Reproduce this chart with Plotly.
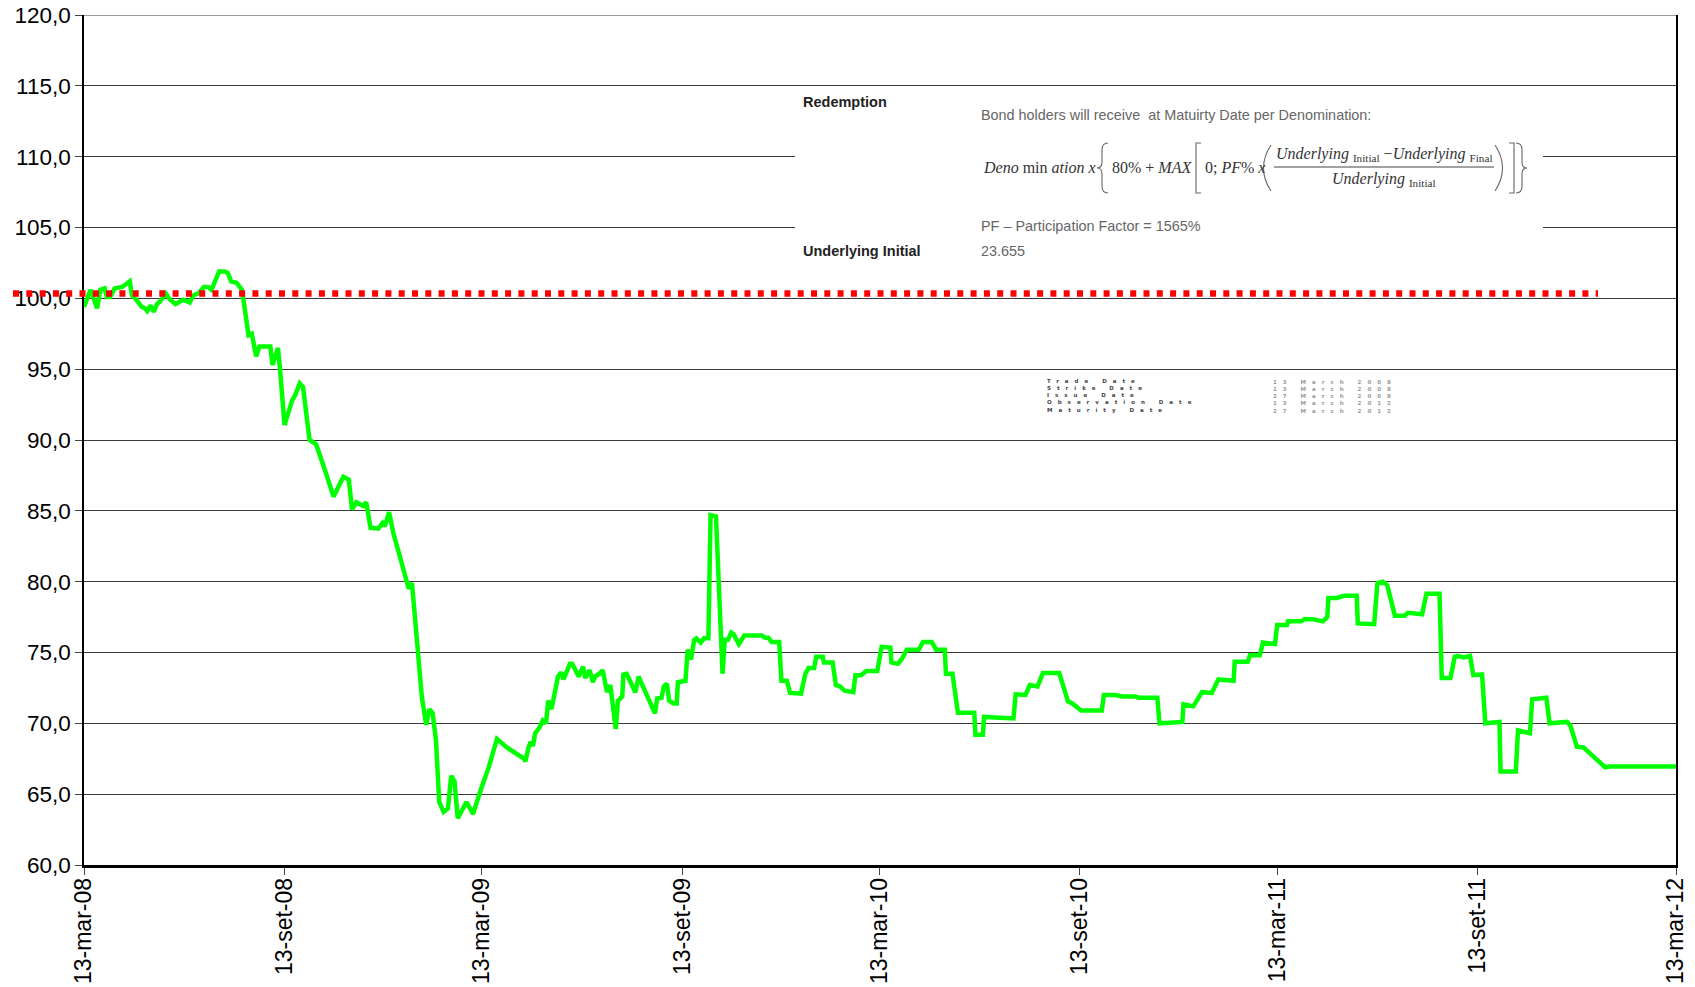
import pandas as pd
import plotly.graph_objects as go

# ---------------- data ----------------
BASE_DATE = "2008-03-13"
day_offsets = [
    0, 6, 12, 15, 19, 21, 24, 28, 35, 42, 44, 48, 53, 56, 58, 61, 64, 67, 70, 75,
    79, 84, 91, 97, 100, 105, 110, 114, 117, 120, 124, 129, 132, 135, 140, 145,
    151, 154, 158, 161, 171, 173, 178, 180, 184, 191, 194, 198, 201, 207, 213,
    221, 229, 238, 243, 246, 250, 256, 259, 263, 270, 274, 276, 280, 284, 290,
    298, 301, 307, 310, 314, 317, 320, 323, 326, 330, 334, 337, 340, 343, 351,
    357, 365, 371, 379, 388, 404, 405, 408, 410, 412, 414, 418, 421, 424, 426,
    429, 435, 438, 440, 446, 448, 454, 458, 460, 464, 467, 469, 473, 476, 480,
    483, 488, 490, 494, 495, 498, 506, 509, 524, 526, 530, 532, 535, 537, 541,
    544, 545, 552, 554, 557, 560, 562, 566, 569, 573, 575, 580, 586, 588, 591,
    594, 596, 601, 606, 622, 625, 628, 631, 638, 640, 645, 648, 658, 662, 665,
    670, 672, 678, 679, 687, 690, 694, 698, 706, 708, 713, 718, 728, 732, 740,
    741, 747, 751, 755, 766, 770, 778, 782, 790, 791, 797, 802, 813, 817, 818,
    825, 826, 839, 853, 855, 864, 868, 875, 880, 895, 903, 907, 915, 934, 936,
    946, 953, 965, 968, 985, 987, 1000, 1008, 1009, 1018, 1026, 1035, 1041,
    1055, 1056, 1068, 1070, 1079, 1082, 1093, 1095, 1104, 1105, 1117, 1120,
    1128, 1137, 1141, 1142, 1150, 1156, 1168, 1169, 1184, 1187, 1192, 1196,
    1203, 1212, 1215, 1228, 1232, 1244, 1246, 1254, 1258, 1261, 1266, 1272,
    1275, 1283, 1286, 1299, 1300, 1314, 1316, 1327, 1329, 1342, 1345, 1361,
    1364, 1370, 1376, 1396, 1400, 1461,
]
price_values = [
    99.4, 100.6, 99.3, 100.6, 100.7, 100.1, 100.1, 100.7, 100.8, 101.2, 100.2,
    99.9, 99.4, 99.3, 99.1, 99.5, 99.05, 99.6, 99.8, 100.35, 99.9, 99.6, 99.9,
    99.7, 100.2, 100.35, 100.8, 100.8, 100.6, 101.1, 101.9, 101.9, 101.8, 101.2,
    101.1, 100.6, 97.4, 97.5, 95.9, 96.6, 96.6, 95.3, 96.5, 94.9, 91.05, 92.8,
    93.2, 94.0, 93.75, 90.0, 89.7, 87.9, 86.0, 87.4, 87.2, 85.1, 85.6, 85.35,
    85.6, 83.8, 83.75, 84.15, 83.9, 84.9, 83.4, 81.75, 79.5, 79.9, 74.2, 71.9,
    69.9, 71.0, 70.7, 68.8, 64.45, 63.75, 64.0, 66.3, 65.9, 63.3, 64.45, 63.6,
    65.5, 66.8, 68.9, 68.3, 67.5, 67.3, 68.3, 68.7, 68.4, 69.3, 69.7, 70.2,
    70.0, 71.6, 71.0, 73.3, 73.6, 73.1, 74.2, 74.2, 73.3, 74.0, 73.2, 73.75,
    72.9, 73.3, 73.5, 73.75, 72.2, 72.7, 69.6, 71.6, 71.9, 73.45, 73.5, 72.2,
    73.3, 70.7, 71.75, 71.8, 72.6, 72.8, 71.6, 71.4, 71.4, 72.9, 73.0, 75.2,
    74.5, 75.9, 76.0, 75.7, 76.0, 76.0, 84.7, 84.6, 73.5, 75.9, 75.9, 76.4,
    76.3, 75.6, 76.2, 76.2, 76.05, 76.05, 75.75, 75.75, 73.0, 73.0, 72.15,
    72.1, 73.5, 73.9, 73.9, 74.7, 74.7, 74.3, 74.3, 72.7, 72.6, 72.3, 72.2,
    73.4, 73.4, 73.7, 73.7, 75.4, 75.35, 74.3, 74.2, 74.6, 75.2, 75.2, 75.75,
    75.75, 75.2, 75.2, 73.5, 73.5, 70.75, 70.8, 70.75, 69.2, 69.2, 70.45, 70.4,
    70.35, 72.05, 72.0, 72.7, 72.6, 73.55, 73.55, 71.55, 71.4, 70.9, 70.9,
    72.0, 72.0, 71.9, 71.9, 71.8, 71.8, 70.0, 70.1, 70.1, 71.35, 71.2, 72.2,
    72.15, 73.1, 73.0, 74.35, 74.35, 74.8, 74.8, 75.7, 75.6, 76.95, 76.95,
    77.2, 77.2, 77.35, 77.35, 77.2, 77.5, 78.85, 78.85, 79.0, 79.0, 77.05,
    77.0, 79.9, 80.0, 79.75, 77.6, 77.6, 77.8, 77.7, 79.15, 79.15, 73.2, 73.2,
    74.7, 74.75, 74.65, 74.75, 73.4, 73.45, 70.0, 70.1, 66.6, 66.6, 69.5,
    69.3, 71.7, 71.8, 70.0, 70.1, 69.85, 68.35, 68.3, 66.9, 66.95, 66.95,
]
reference_level = 100.35

tick_dates = ["2008-03-13", "2008-09-13", "2009-03-13", "2009-09-13", "2010-03-13",
              "2010-09-13", "2011-03-13", "2011-09-13", "2012-03-13"]
tick_labels = ["13-mar-08", "13-set-08", "13-mar-09", "13-set-09", "13-mar-10",
               "13-set-10", "13-mar-11", "13-set-11", "13-mar-12"]
y_ticks = [60, 65, 70, 75, 80, 85, 90, 95, 100, 105, 110, 115, 120]

info_labels = ["Trade Date", "Strike Date", "Issue Date", "Observation Date", "Maturity Date"]
info_values = ["13 March 2008", "13 March 2008", "27 March 2008", "13 March 2012", "27 March 2012"]

dates = pd.Timestamp(BASE_DATE) + pd.to_timedelta(day_offsets, unit="D")

# ---------------- layout helpers ----------------
W, H = 1695, 987
L, R, T, B = 84, 1676, 15, 865   # plot area in page pixels


def px(x):
    return (x - L) / (R - L)


def py(y):
    return (B - y) / (B - T)


def path(cmds):
    """cmds: list of (letter, [(x, y), ...]) in page pixels -> paper path"""
    out = []
    for c, pts in cmds:
        out.append(c + " " + " ".join("%.5f,%.5f" % (px(x), py(y)) for x, y in pts))
    return " ".join(out)


fig = go.Figure()
fig.add_trace(go.Scatter(x=dates, y=price_values, mode="lines",
                         line=dict(color="#00FF00", width=4.5),
                         hoverinfo="skip", showlegend=False))

x_font = dict(family="Liberation Sans, Arial, sans-serif", size=23, color="black")
y_font = dict(family="Liberation Sans, Arial, sans-serif", size=22.5, color="black")

fig.update_layout(
    width=W, height=H, autosize=False,
    margin=dict(l=L, r=W - R, t=T, b=H - B, pad=0, autoexpand=False),
    paper_bgcolor="white", plot_bgcolor="white",
    separators=",.",
    showlegend=False,
    xaxis=dict(type="date", range=[tick_dates[0], tick_dates[-1]],
               tickvals=tick_dates, ticktext=tick_labels, tickangle=-90,
               showgrid=False, zeroline=False, automargin=False,
               ticklabeloverflow="allow", ticklabelstandoff=-6,
               showline=True, linecolor="black", linewidth=2.5,
               ticks="outside", ticklen=7, tickcolor="#444", tickwidth=1,
               tickfont=x_font),
    yaxis=dict(range=[y_ticks[0], y_ticks[-1]], tickvals=y_ticks, tickformat=".1f",
               showgrid=True, gridcolor="#3a3a3a", gridwidth=1.2,
               zeroline=False, automargin=False, ticklabeloverflow="allow",
               showline=True, linecolor="black", linewidth=1.5, mirror=True,
               ticks="outside", ticklen=7, tickcolor="#444", tickwidth=1,
               tickfont=y_font),
)

shapes = []
# top frame line (upper gridline of the value axis)
shapes.append(dict(type="line", xref="paper", yref="y", x0=0, x1=1,
                   y0=y_ticks[-1], y1=y_ticks[-1],
                   line=dict(color="#3a3a3a", width=1.2), layer="below"))
# inset picture background (white panel)
shapes.append(dict(type="rect", xref="paper", yref="paper",
                   x0=px(795), x1=px(1543), y0=py(268), y1=py(90),
                   fillcolor="white", line=dict(width=0), layer="above"))
# fraction bar
shapes.append(dict(type="line", xref="paper", yref="paper",
                   x0=px(1274), x1=px(1494), y0=py(167), y1=py(167),
                   line=dict(color="#444", width=1), layer="above"))
# formula brackets drawn as thin paths
bracket_line = dict(color="#666", width=1.1)
top, mid, bot = 143, 168, 193
brackets = [
    # {
    [("M", [(1108, top)]), ("Q", [(1102, top), (1102, top + 7)]), ("L", [(1102, mid - 6)]),
     ("Q", [(1102, mid), (1097, mid)]), ("Q", [(1102, mid), (1102, mid + 6)]),
     ("L", [(1102, bot - 7)]), ("Q", [(1102, bot), (1108, bot)])],
    # [
    [("M", [(1201, top)]), ("L", [(1196, top)]), ("L", [(1196, bot)]), ("L", [(1201, bot)])],
    # (
    [("M", [(1271, top + 2)]), ("Q", [(1256, mid), (1271, bot - 2)])],
    # )
    [("M", [(1495, top + 2)]), ("Q", [(1510, mid), (1495, bot - 2)])],
    # ]
    [("M", [(1509, top)]), ("L", [(1514, top)]), ("L", [(1514, bot)]), ("L", [(1509, bot)])],
    # }
    [("M", [(1516, top)]), ("Q", [(1522, top), (1522, top + 7)]), ("L", [(1522, mid - 6)]),
     ("Q", [(1522, mid), (1527, mid)]), ("Q", [(1522, mid), (1522, mid + 6)]),
     ("L", [(1522, bot - 7)]), ("Q", [(1522, bot), (1516, bot)])],
]
for b in brackets:
    shapes.append(dict(type="path", xref="paper", yref="paper", path=path(b),
                       line=bracket_line, layer="above"))
# red dotted reference level
shapes.append(dict(type="line", xref="paper", yref="y",
                   x0=px(13), x1=px(1598), y0=reference_level, y1=reference_level,
                   line=dict(color="#FF0000", width=6.5, dash="6px,7.3px"),
                   layer="above"))
fig.update_layout(shapes=shapes)

ann = []


def add_text(text, x, y, size, color, family="Liberation Sans, Arial, sans-serif",
             xanchor="left", yanchor="middle", align="left"):
    ann.append(dict(text=text, x=px(x), y=py(y), xref="paper", yref="paper",
                    xanchor=xanchor, yanchor=yanchor, showarrow=False, align=align,
                    font=dict(family=family, size=size, color=color)))


add_text("<b>Redemption</b>", 801, 102.5, 14.5, "#222")
add_text("Bond holders will receive  at Matuirty Date per Denomination:", 979, 114.5, 14.4, "#666")
add_text("PF \u2013 Participation Factor = 1565%", 979, 226, 14.4, "#666")
add_text("<b>Underlying Initial</b>", 801, 251.5, 14.5, "#222")
add_text("23.655", 979, 251.5, 14.4, "#666")

serif = "Liberation Serif, Times New Roman, serif"
fc = "#333"
add_text("<i>Deno</i> min <i>ation x</i>", 981, 167, 16, fc, serif)
add_text("80% + <i>MAX</i>", 1110, 167, 16, fc, serif)
add_text("0; <i>PF</i>% <i>x</i>", 1203, 167, 16, fc, serif)
add_text("<i>Underlying</i> <sub>Initial</sub> \u2212<i>Underlying</i> <sub>Final</sub>",
         1384, 154, 16, fc, serif, xanchor="center", align="center")
add_text("<i>Underlying</i> <sub>Initial</sub>", 1384, 180, 16, fc, serif,
         xanchor="center", align="center")

# tiny (blurred) date table: one left-aligned multi-line text per column
lab_text = "<br>".join('<span style="letter-spacing:6px">%s</span>' % s for s in info_labels)
val_text = "<br>".join('<span style="letter-spacing:6px">%s</span>' % s for s in info_values)
add_text("<b>%s</b>" % lab_text, 1045, 396, 5.5, "#444", "DejaVu Sans, sans-serif")
add_text("<b>%s</b>" % val_text, 1271, 396, 5.5, "#999", "DejaVu Sans, sans-serif")

fig.update_layout(annotations=ann)

# the page body keeps no margin so the figure starts at the window corner
fig.write_html("out.html", config={"displayModeBar": False},
               post_script="document.body.style.margin='0';")
